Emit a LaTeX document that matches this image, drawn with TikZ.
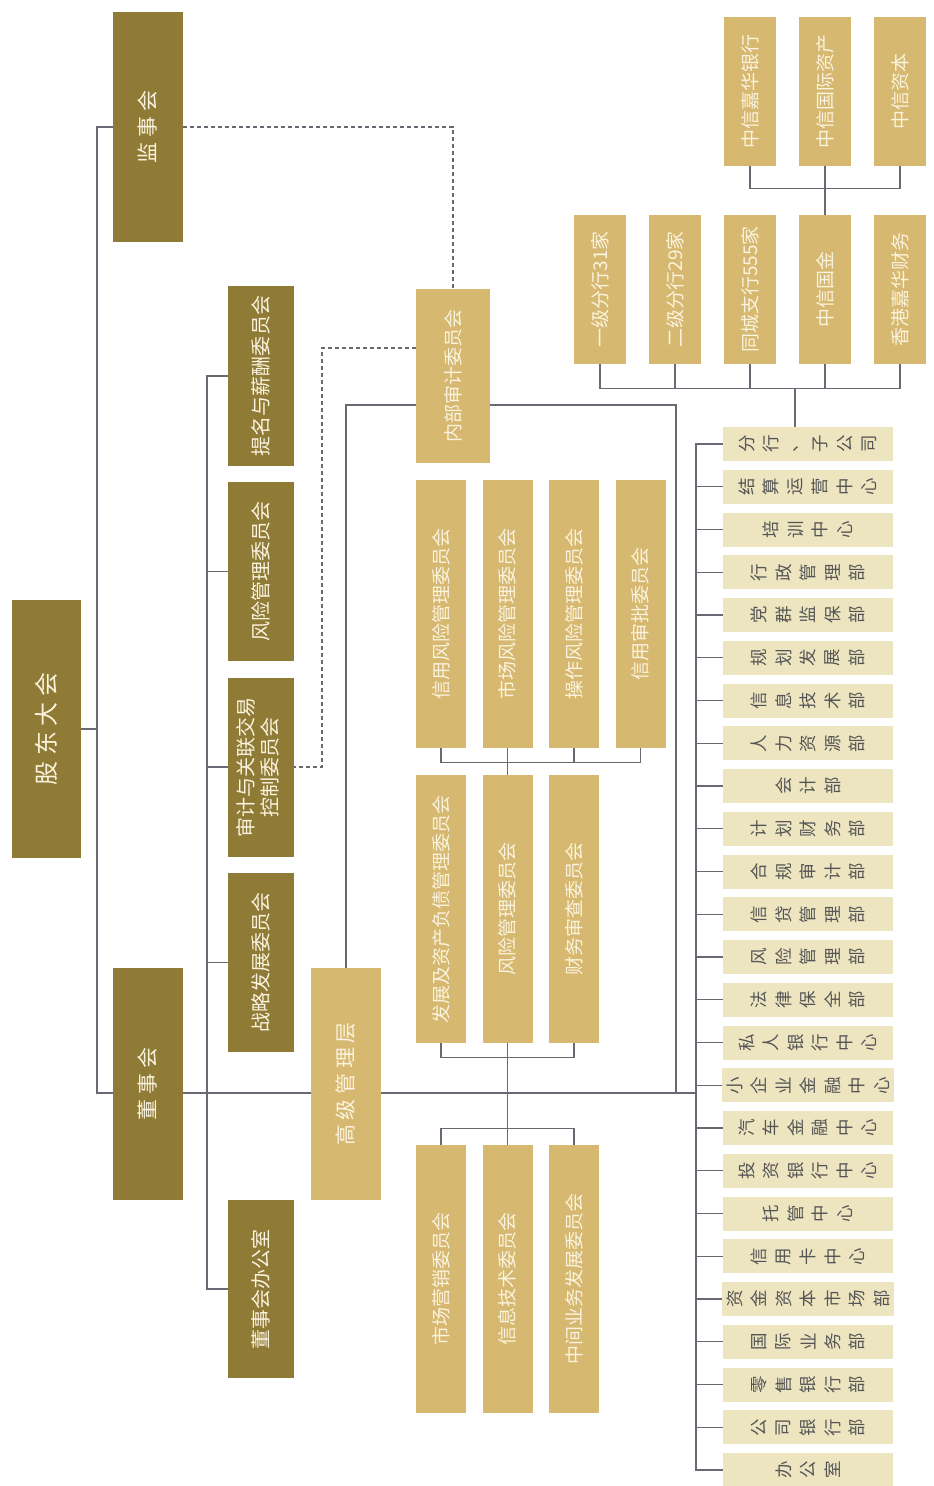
\documentclass[tikz,border=0pt]{standalone}
\usepackage{fontspec}
\setmainfont{Noto Sans CJK SC}
\usepackage{graphicx}
\usepackage{tikz}
\usetikzlibrary{calc}
\definecolor{cDark}{RGB}{143,122,54}
\definecolor{cGold}{RGB}{214,184,112}
\definecolor{cPale}{RGB}{237,229,192}
\definecolor{cText}{RGB}{250,243,222}
\definecolor{cGrey}{RGB}{85,85,85}
\definecolor{cLine}{RGB}{105,105,115}
\newcommand\vlabel[1]{\rotatebox{90}{#1}}
\newcommand\turnchars[1]{\turncharsA#1\relax}
\newcommand\turncharsA[1]{\ifx\relax#1\else\makebox[12.25pt]{\rotatebox{90}{#1}}\expandafter\turncharsA\fi}

\begin{document}
\begin{tikzpicture}[x=0.5pt,y=-0.5pt,
  boardbox/.style={fill=cDark,text=cText,inner sep=0pt,font=\fontsize{10}{12}\selectfont},
  mgmtbox/.style={fill=cGold,text=cText,inner sep=0pt,font=\fontsize{9.5}{12}\selectfont},
  deptbox/.style={fill=cPale,text=cGrey,inner sep=0pt,minimum width=85pt,minimum height=17pt,font=\fontsize{8.75}{10}\selectfont},
  link/.style={draw=cLine,line width=0.7pt},
  dashlink/.style={link,dash pattern=on 2pt off 1.5pt}]
  \path[use as bounding box,fill=white] (0,0) rectangle (933,1486);
  \coordinate (main) at (0,1093);
  % shareholders, supervisors, board
  \node[boardbox,minimum width=34.5pt,minimum height=129pt,font=\fontsize{12}{14}\selectfont] (gd) at (46.5,729) {\vlabel{股 东 大 会}};
  \node[boardbox,minimum width=35pt,minimum height=115pt,font=\fontsize{10.5}{12}\selectfont] (jsh) at (148,127) {\vlabel{监 事 会}};
  \node[boardbox,minimum width=35pt,minimum height=116pt,font=\fontsize{10.5}{12}\selectfont] (dsh) at (148,1084) {\vlabel{董 事 会}};
  % board committees
  \node[boardbox,minimum width=33pt,minimum height=89.5pt] (tm) at (261,376) {\vlabel{提名与薪酬委员会}};
  \node[boardbox,minimum width=33pt,minimum height=89.5pt] (fx) at (261,571.5) {\vlabel{风险管理委员会}};
  \node[boardbox,minimum width=33pt,minimum height=89.5pt] (sj) at (261,767) {\vlabel{\begin{tabular}{@{}c@{}}审计与关联交易\\控制委员会\end{tabular}}};
  \node[boardbox,minimum width=33pt,minimum height=89.5pt] (zl) at (261,962.5) {\vlabel{战略发展委员会}};
  \node[boardbox,minimum width=33pt,minimum height=89pt] (bgs) at (261,1289) {\vlabel{董事会办公室}};
  % senior management and its committees
  \node[mgmtbox,minimum width=35pt,minimum height=116pt,font=\fontsize{10.5}{12}\selectfont] (gj) at (346,1084) {\vlabel{高 级 管 理 层}};
  \node[mgmtbox,minimum width=37pt,minimum height=87pt] (nb) at (453,376) {\vlabel{内部审计委员会}};
  \foreach \name [count=\i] in {信用风险管理委员会,市场风险管理委员会,操作风险管理委员会,信用审批委员会}
    \node[mgmtbox,minimum width=25pt,minimum height=134pt] (ra\i) at ({441+(\i-1)*66.5},614) {\vlabel{\name}};
  \foreach \name [count=\i] in {发展及资产负债管理委员会,风险管理委员会,财务审查委员会}
    \node[mgmtbox,minimum width=25pt,minimum height=134pt] (rb\i) at ({441+(\i-1)*66.5},909) {\vlabel{\name}};
  \foreach \name [count=\i] in {市场营销委员会,信息技术委员会,中间业务发展委员会}
    \node[mgmtbox,minimum width=25pt,minimum height=134pt] (rc\i) at ({441+(\i-1)*66.5},1279) {\vlabel{\name}};
  % subsidiaries and branches
  \foreach \name [count=\i] in {中信嘉华银行,中信国际资产,中信资本}
    \node[mgmtbox,minimum width=26pt,minimum height=74.5pt] (sa\i) at ({750+(\i-1)*75},91.5) {\vlabel{\name}};
  \foreach \name [count=\i] in {一级分行31家,二级分行29家,同城支行555家,中信国金,香港嘉华财务}
    \node[mgmtbox,minimum width=26pt,minimum height=74.5pt] (sb\i) at ({600+(\i-1)*75},289.5) {\vlabel{\name}};
  % head office departments
  \foreach \name [count=\i] in {分行、子公司,结算运营中心,培训中心,行政管理部,党群监保部,规划发展部,信息技术部,人力资源部,会计部,计划财务部,合规审计部,信贷管理部,风险管理部,法律保全部,私人银行中心,小企业金融中心,汽车金融中心,投资银行中心,托管中心,信用卡中心,资金资本市场部,国际业务部,零售银行部,公司银行部,办公室}
    \node[deptbox] (d\i) at (808,{444+(\i-1)*42.75}) {\expandafter\turnchars\expandafter{\name}};
  % left spine
  \coordinate (spine) at (97,0);
  \draw[link] (jsh.west) -| (spine |- main) -- (dsh.west |- main);
  \draw[link] (gd.east) -- (spine |- gd.east);
  % board committees
  \coordinate (bspine) at (207,0);
  \draw[link] (tm.west) -| (bspine |- bgs.west) -- (bgs.west);
  \foreach \n in {fx,sj,zl} \draw[link] (\n.west) -- (bspine |- \n.west);
  % main line
  \coordinate (dspine) at (696,0);
  \draw[link] (dsh.east |- main) -- (gj.west |- main);
  \draw[link] (gj.east |- main) -- (dspine |- main);
  % loop through internal audit
  \coordinate (loop) at (676,405);
  \draw[link] (gj.north) |- (nb.west |- loop);
  \draw[link] (nb.east |- loop) -| (loop |- main);
  % dashed reporting lines
  \coordinate (dbend) at (322,348);
  \draw[dashlink] (jsh.east) -| (nb.north);
  \draw[dashlink] (nb.west |- dbend) -- (dbend) |- (sj.east);
  % committee bars
  \draw[link] (ra1.south) -- ++(0,14) -| (ra4.south);
  \draw[link] (ra3.south) -- ++(0,14);
  \draw[link] (ra2.south) -- (rb2.north);
  \draw[link] (rb1.south) -- ++(0,14) -| (rb3.south);
  \draw[link] (rb2.south) -- (rc2.north);
  \draw[link] (rc1.north) -- ++(0,-16) -| (rc3.north);
  % subsidiary bars
  \draw[link] (sa1.south) -- ++(0,22) -| (sa3.south);
  \draw[link] (sa2.south) -- (sb4.north);
  \draw[link] (sb1.south) -- ++(0,24) -| (sb5.south);
  \foreach \i in {2,3,4} \draw[link] (sb\i.south) -- ++(0,24);
  \coordinate (sub) at (795,388);
  \draw[link] (sub) -- (sub |- d1.north);
  % department spine
  \draw[link] (d1.west) -| (dspine |- d25.west) -- (d25.west);
  \foreach \i in {2,...,24} \draw[link] (d\i.west) -- (dspine |- d\i.west);
\end{tikzpicture}
\end{document}
